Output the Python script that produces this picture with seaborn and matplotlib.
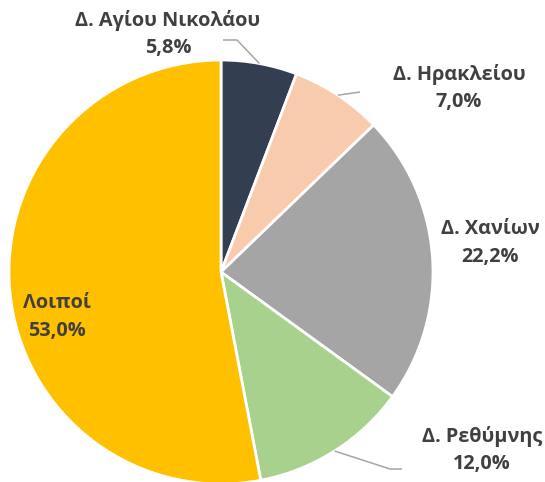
import numpy as np
import matplotlib
matplotlib.use("Agg")
import matplotlib.pyplot as plt
import seaborn as sns

# ---- data ----
categories = ["Δ. Αγίου Νικολάου", "Δ. Ηρακλείου", "Δ. Χανίων", "Δ. Ρεθύμνης", "Λοιποί"]
values = [5.8, 7.0, 22.2, 12.0, 53.0]
colors = ["#333F50", "#F8CBAD", "#A5A5A5", "#A9D18E", "#FFC000"]

sns.set_theme(style="white")
plt.rcParams["font.family"] = ["Open Sans", "DejaVu Sans"]

W, H = 545, 482
CX, CY, R = 221, 272, 212  # pie centre / radius in pixels

fig = plt.figure(figsize=(W / 100, H / 100), dpi=100)
ax = fig.add_axes([0, 0, 1, 1])

wedges, _ = ax.pie(values, colors=colors, startangle=90, counterclock=False,
                   radius=1.0, wedgeprops=dict(edgecolor="white", linewidth=2.0))

ax.set_aspect("auto")
ax.set_xlim(-CX / R, (W - CX) / R)
ax.set_ylim(-(H - CY) / R, CY / R)
ax.axis("off")


def px(x, y):
    return ((x - CX) / R, (CY - y) / R)


txt_color = "#404040"
# label centres (pixels) - layout
label_pos = [(168, 34), (459, 88), (490, 243), (482, 450), (57, 317)]
for cat, val, (lx, ly) in zip(categories, values, label_pos):
    s = f"{cat}\n" + f"{val:.1f}".replace(".", ",") + "%"
    x, y = px(lx, ly)
    ax.text(x, y, s, ha="center", va="center", fontsize=14.3, fontweight="bold",
            color=txt_color, linespacing=1.52)

# leader lines from wedge mid-angles
line_color = "#A6A6A6"
leaders = {0: [(237, 40), (223, 40)], 1: [(360, 92)], 3: [(390, 469), (402, 469)]}
for i, pts in leaders.items():
    w = wedges[i]
    mid = np.deg2rad((w.theta1 + w.theta2) / 2)
    xs = [np.cos(mid)]
    ys = [np.sin(mid)]
    for p in pts:
        x, y = px(*p)
        xs.append(x)
        ys.append(y)
    ax.plot(xs, ys, color=line_color, lw=1.1, solid_capstyle="butt")

fig.savefig("out.png", dpi=100)
